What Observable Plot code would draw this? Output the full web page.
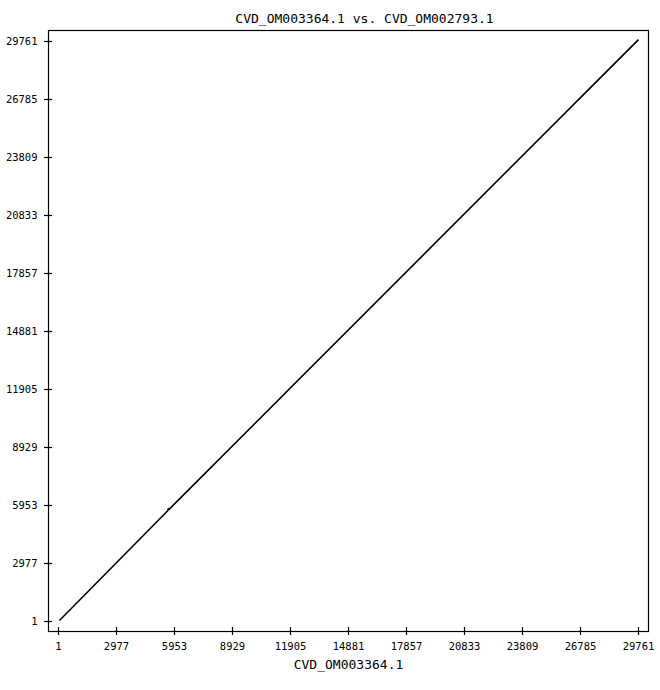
<!DOCTYPE html>
<html>
<head>
<meta charset="utf-8">
<script src="https://cdn.jsdelivr.net/npm/d3@7"></script>
<script src="https://cdn.jsdelivr.net/npm/@observablehq/plot@0.6"></script>
<style>
  html, body { margin: 0; padding: 0; background: #fff; }
  #chart { position: relative; width: 660px; height: 690px; }
</style>
</head>
<body>
<div id="chart"></div>
<script>
const titleText = "CVD_OM003364.1 vs. CVD_OM002793.1";
const xLabel = "CVD_OM003364.1";
const tickValues = [1, 2977, 5953, 8929, 11905, 14881, 17857, 20833, 23809, 26785, 29761];
// alignment segments (x = position in OM003364.1, y = position in OM002793.1)
const segX1 = [50, 5660];
const segY1 = [50, 5740];
const segX2 = [5630, 29761];
const segY2 = [5710, 29860];
// small off-diagonal hit
const dotX = [5645];
const dotY = [5760];

const segments = segX1.map((x1, i) => ({x1, y1: segY1[i], x2: segX2[i], y2: segY2[i]}));
const dots = dotX.map((x, i) => ({x, y: dotY[i]}));

const lo = -512, hiX = 30274, hiY = 30325;
const half = 205; // half tick length in data units (~4px)
const font = "DejaVu Sans Mono, Liberation Mono, monospace";

const plot = Plot.plot({
  width: 660,
  height: 690,
  marginTop: 30,
  marginLeft: 48,
  marginRight: 12,
  marginBottom: 59,
  style: {fontFamily: font, fontSize: "10.5px", color: "#000", background: "#fff"},
  x: {domain: [lo, hiX], axis: null},
  y: {domain: [lo, hiY], axis: null},
  marks: [
    Plot.frame({stroke: "#000", strokeWidth: 1.2}),
    Plot.ruleX(tickValues, {x: d => d, y1: lo - half, y2: lo + half, stroke: "#000", strokeWidth: 1.2}),
    Plot.ruleY(tickValues, {y: d => d, x1: lo - half, x2: lo + half, stroke: "#000", strokeWidth: 1.2}),
    Plot.text(tickValues, {x: d => d, y: lo, text: d => String(d), dy: 15, fontSize: 10.5, fill: "#000"}),
    Plot.text(tickValues, {x: lo, y: d => d, text: d => String(d), dx: -11, textAnchor: "end", fontSize: 10.5, fill: "#000"}),
    Plot.link(segments, {x1: "x1", y1: "y1", x2: "x2", y2: "y2", stroke: "#000", strokeWidth: 1.6}),
    Plot.dot(dots, {x: "x", y: "y", r: 1.2, fill: "#000"}),
    Plot.text([titleText], {frameAnchor: "top", dy: -17, dx: 16, text: d => d, fontSize: 13, fill: "#000"}),
    Plot.text([xLabel], {frameAnchor: "bottom", dy: 37, text: d => d, fontSize: 13, fill: "#000"})
  ]
});
document.getElementById("chart").appendChild(plot);
</script>
</body>
</html>
